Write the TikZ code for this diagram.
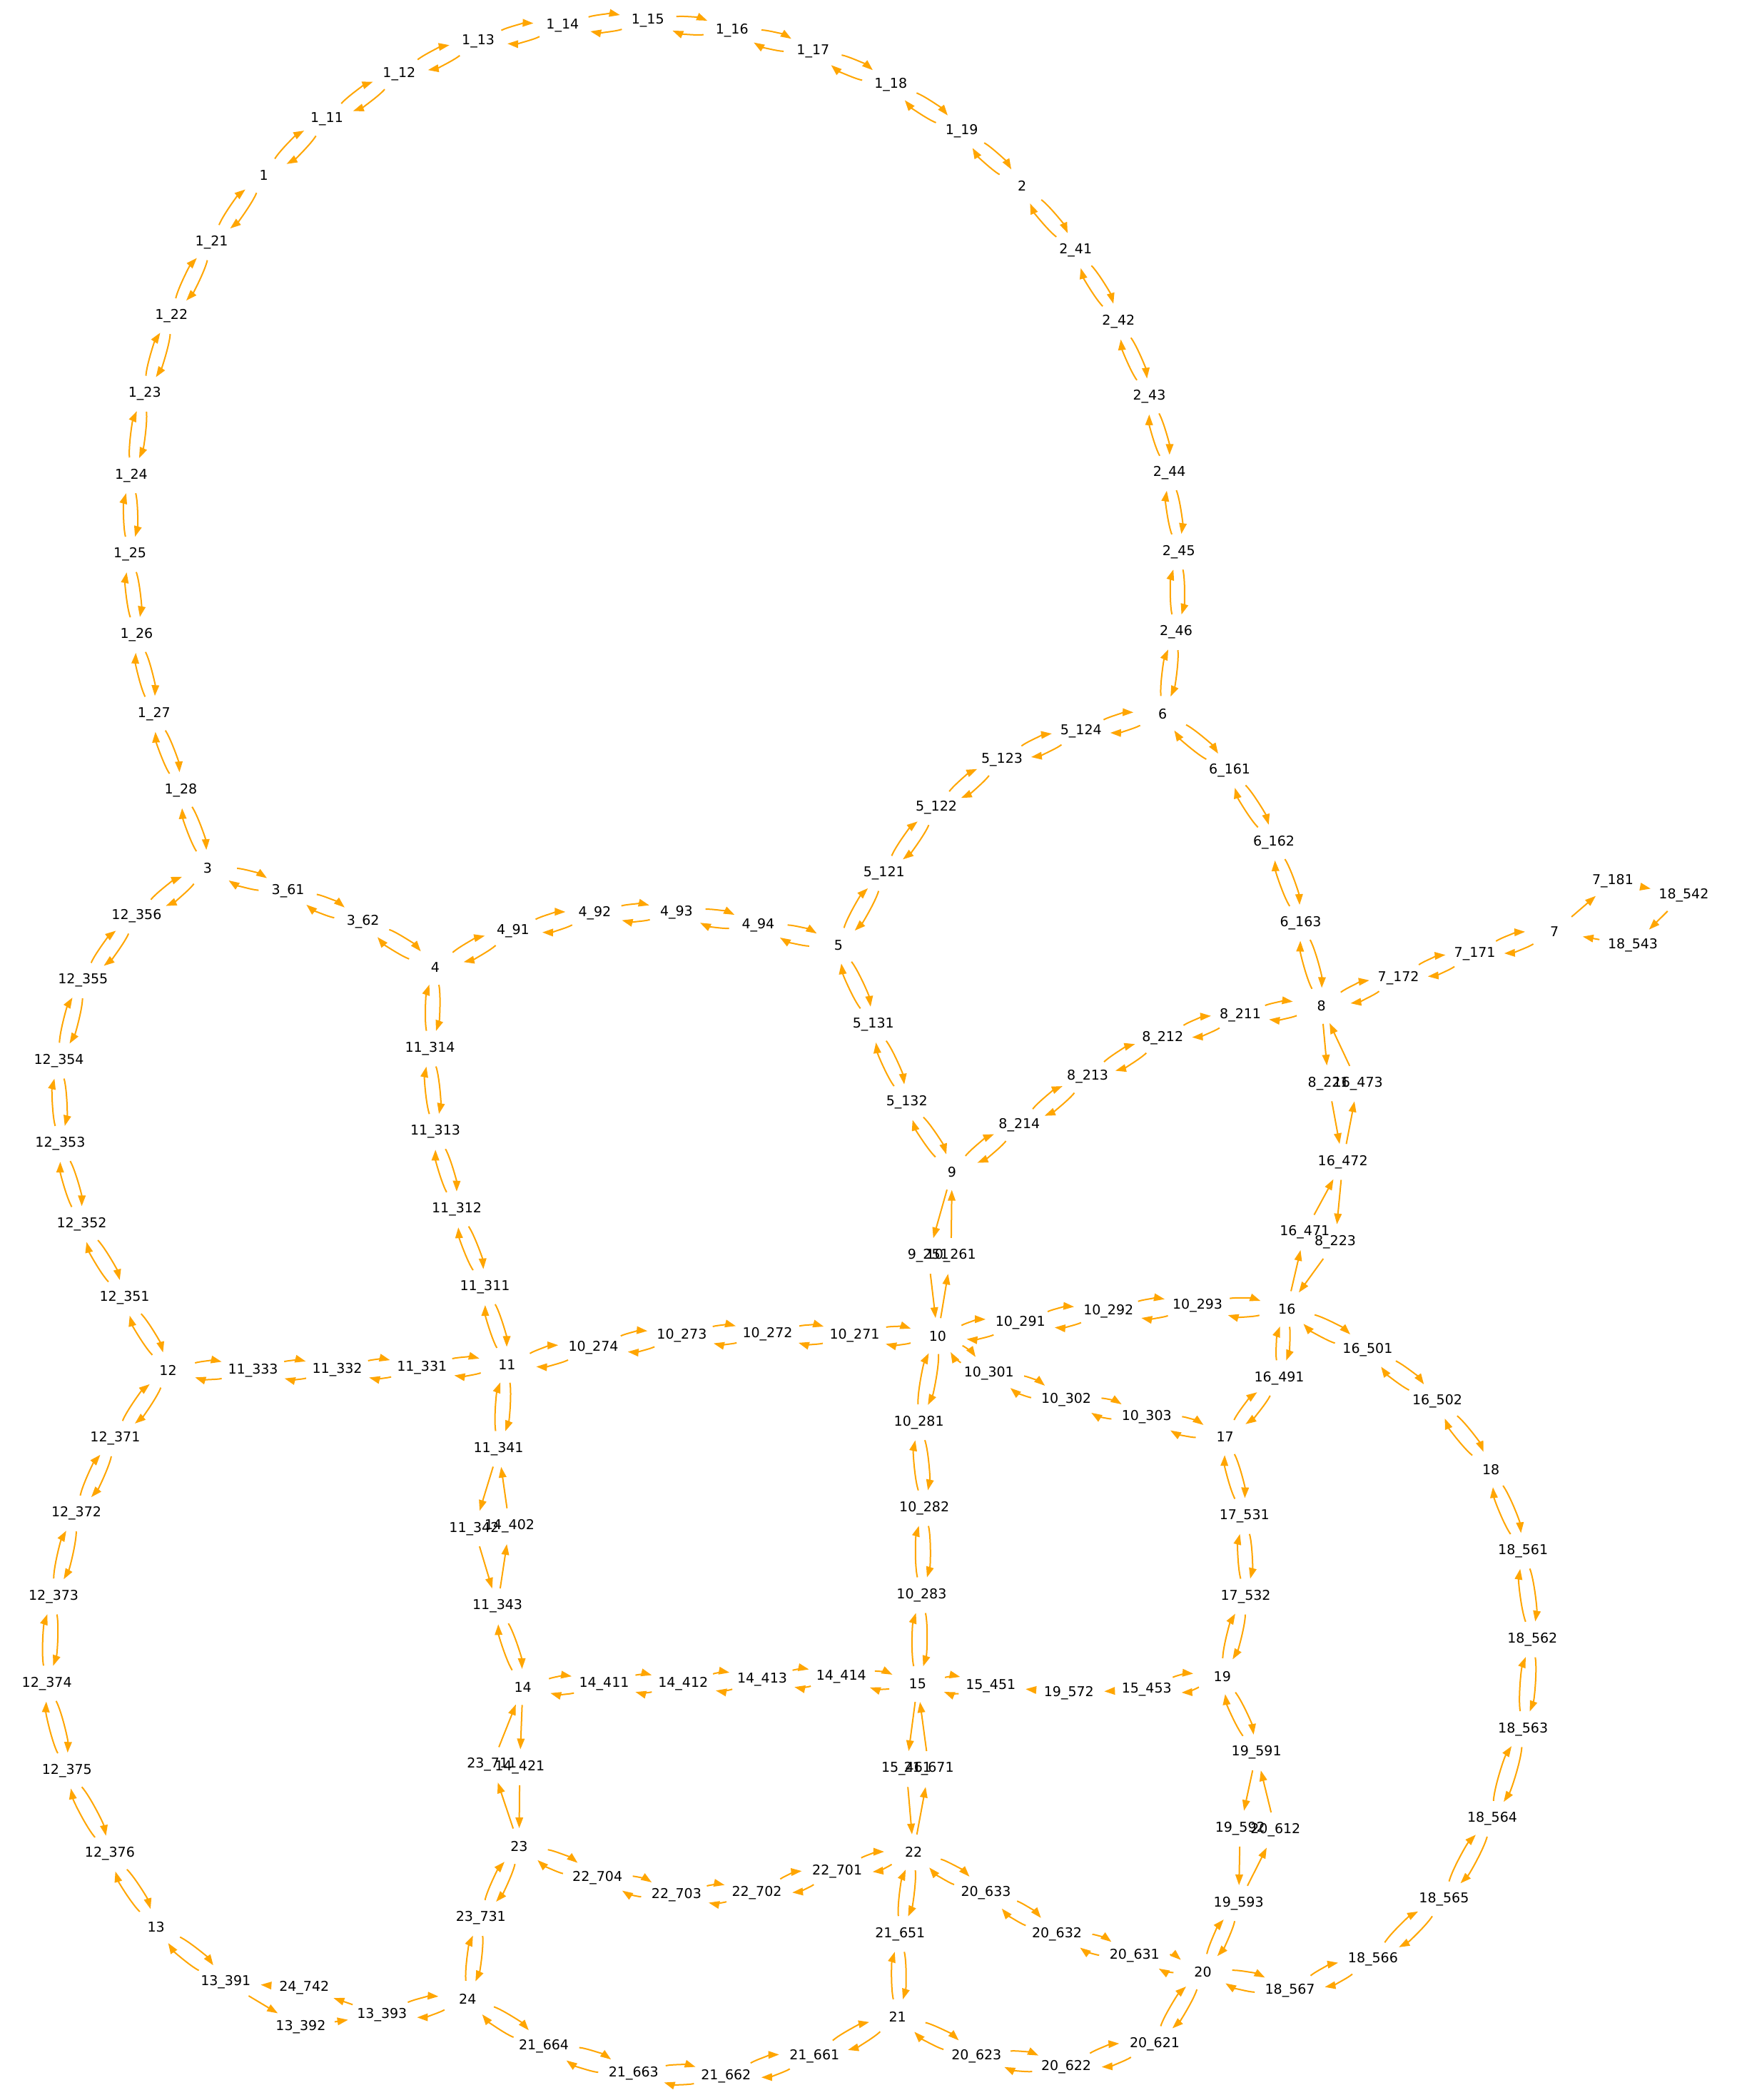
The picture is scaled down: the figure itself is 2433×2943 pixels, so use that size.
\documentclass[tikz,border=0pt]{standalone}
\usepackage{fontspec}
\setmainfont{DejaVu Sans}
\usetikzlibrary{shapes.geometric,arrows.meta}
\definecolor{edgeor}{HTML}{FFA500}
\newcommand\gfont{\fontsize{19}{22}\selectfont}
\tikzset{
  gn/.style={ellipse, inner sep=0pt, minimum height=50pt, font=\gfont, text=black},
  ebase/.style={draw=edgeor, line width=2pt, -{Triangle[length=15pt,width=10.5pt]}, edgeor},
  eb/.style={ebase, bend left=15, looseness=0.6},
  eo/.style={ebase}
}
\newlength\gw
\newcommand\gN[3]{\settowidth\gw{\gfont #3}\addtolength\gw{40pt}\ifdim\gw<82pt\setlength\gw{82pt}\fi\node[gn, minimum width=\gw] (n#1) at (#2) {#3};}
\newcommand\gB[2]{\draw[eb] (n#1) to (n#2); \draw[eb] (n#2) to (n#1);}
\newcommand\gOW[2]{\draw[eo] (n#1) -- (n#2);}
\begin{document}
\begin{tikzpicture}[x=1.877pt, y=-1.877pt]
\useasboundingbox (0pt,0pt) rectangle (2433pt,-2943pt);
% top arc
\gN{1}{197,131}{1}
\gN{1-11}{244,89}{1\_11}
\gN{1-12}{298,55}{1\_12}
\gN{1-13}{357,31}{1\_13}
\gN{1-14}{420,19}{1\_14}
\gN{1-15}{483.6,15.6}{1\_15}
\gN{1-16}{546.5,22.7}{1\_16}
\gN{1-17}{607,38}{1\_17}
\gN{1-18}{665,63}{1\_18}
\gN{1-19}{718,98}{1\_19}
\gN{2}{763,139}{2}
\gN{2-41}{803,187}{2\_41}
\gN{2-42}{835,240}{2\_42}
\gN{2-43}{858,296}{2\_43}
\gN{2-44}{873,353}{2\_44}
\gN{2-45}{880,412}{2\_45}
\gN{2-46}{878,472}{2\_46}
\gN{6}{868,533}{6}
% left arc
\gN{1-21}{158,181}{1\_21}
\gN{1-22}{128,236}{1\_22}
\gN{1-23}{108,294}{1\_23}
\gN{1-24}{98,355}{1\_24}
\gN{1-25}{97,414}{1\_25}
\gN{1-26}{102,474}{1\_26}
\gN{1-27}{115,533}{1\_27}
\gN{1-28}{135,590}{1\_28}
\gN{3}{155,648}{3}
\gN{3-61}{215,665}{3\_61}
\gN{3-62}{271,688}{3\_62}
\gN{4}{325,722}{4}
\gN{4-91}{383,695}{4\_91}
\gN{4-92}{444,682}{4\_92}
\gN{4-93}{505,681}{4\_93}
\gN{4-94}{566,691}{4\_94}
\gN{5}{626,706}{5}
\gN{5-121}{660,652}{5\_121}
\gN{5-122}{699,603}{5\_122}
\gN{5-123}{748,567}{5\_123}
\gN{5-124}{807,546}{5\_124}
\gN{6-161}{918,575}{6\_161}
\gN{6-162}{951,629}{6\_162}
\gN{6-163}{971,689}{6\_163}
\gN{8}{986.5,751}{8}
\gN{7-172}{1044,730}{7\_172}
\gN{7-171}{1101,712}{7\_171}
\gN{7}{1160.5,695.5}{7}
\gN{7-181}{1204,658}{7\_181}
\gN{18-542}{1257,668.3}{18\_542}
\gN{18-543}{1219,706}{18\_543}
\gN{8-211}{926,758}{8\_211}
\gN{8-212}{868,775}{8\_212}
\gN{8-213}{812,804}{8\_213}
\gN{8-214}{761,840}{8\_214}
\gN{9}{710.7,875}{9}
\gN{5-131}{652,765}{5\_131}
\gN{5-132}{677,823}{5\_132}
\gN{9-251}{693,937.7}{9\_251}
\gN{10-261}{710,937.7}{10\_261}
\gN{10}{700,997.5}{10}
\gN{8-221}{991.8,808.9}{8\_221}
\gN{16-473}{1013.7,808.9}{16\_473}
\gN{16-472}{1002.5,867.5}{16\_472}
\gN{16-471}{974,920}{16\_471}
\gN{8-223}{996.8,927.5}{8\_223}
\gN{16}{960.7,977.3}{16}
\gN{10-291}{761.7,987.8}{10\_291}
\gN{10-292}{827.5,979}{10\_292}
\gN{10-293}{894,975}{10\_293}
\gN{10-301}{738.3,1025.6}{10\_301}
\gN{10-302}{796,1045.3}{10\_302}
\gN{10-303}{856,1058}{10\_303}
\gN{17}{914.6,1073}{17}
\gN{16-491}{955,1029}{16\_491}
\gN{16-501}{1021,1008}{16\_501}
\gN{16-502}{1073,1046}{16\_502}
\gN{18}{1113,1097}{18}
\gN{17-531}{929,1132}{17\_531}
\gN{17-532}{930,1192}{17\_532}
\gN{19}{912.5,1251.5}{19}
\gN{18-561}{1137,1158}{18\_561}
\gN{18-562}{1144,1224}{18\_562}
\gN{18-563}{1137,1291}{18\_563}
\gN{18-564}{1114,1358}{18\_564}
\gN{18-565}{1078,1418}{18\_565}
\gN{18-566}{1025,1463}{18\_566}
\gN{18-567}{963,1486}{18\_567}
\gN{20}{898,1472.2}{20}
\gN{19-591}{938,1308.5}{19\_591}
\gN{19-592}{925.8,1365.3}{19\_592}
\gN{20-612}{952.2,1366.5}{20\_612}
\gN{19-593}{924.7,1421}{19\_593}
\gN{20-621}{862,1526}{20\_621}
\gN{20-622}{796,1543}{20\_622}
\gN{20-623}{729,1535}{20\_623}
\gN{21}{670,1506}{21}
\gN{20-631}{847,1460}{20\_631}
\gN{20-632}{789,1444}{20\_632}
\gN{20-633}{736,1413}{20\_633}
\gN{22}{682,1383}{22}
\gN{21-651}{672,1444}{21\_651}
\gN{10-281}{686,1062}{10\_281}
\gN{10-282}{690,1126}{10\_282}
\gN{10-283}{688,1191}{10\_283}
\gN{15}{685,1257.3}{15}
\gN{15-451}{739.6,1258.8}{15\_451}
\gN{19-572}{798,1264}{19\_572}
\gN{15-453}{856,1261.4}{15\_453}
\gN{15-461}{676.6,1320.8}{15\_461}
\gN{21-671}{693.5,1320.8}{21\_671}
\gN{22-701}{625,1397}{22\_701}
\gN{22-702}{565,1413}{22\_702}
\gN{22-703}{505,1415}{22\_703}
\gN{22-704}{446,1402}{22\_704}
\gN{23}{387.5,1378.4}{23}
\gN{14-414}{628,1252}{14\_414}
\gN{14-413}{569,1254}{14\_413}
\gN{14-412}{510,1257}{14\_412}
\gN{14-411}{451,1257}{14\_411}
\gN{14}{390.3,1259.5}{14}
\gN{14-421}{388,1319.5}{14\_421}
\gN{23-711}{367.2,1317.6}{23\_711}
\gN{23-731}{359,1432}{23\_731}
\gN{24}{349.1,1492.3}{24}
\gN{21-664}{406,1528}{21\_664}
\gN{21-663}{473,1548}{21\_663}
\gN{21-662}{542,1550}{21\_662}
\gN{21-661}{608,1535}{21\_661}
\gN{13-393}{285.2,1504.2}{13\_393}
\gN{13-392}{224.5,1513.4}{13\_392}
\gN{24-742}{227.1,1484.3}{24\_742}
\gN{13-391}{168.5,1479.9}{13\_391}
\gN{13}{116.5,1438.5}{13}
\gN{12-376}{82,1384}{12\_376}
\gN{12-375}{50,1322}{12\_375}
\gN{12-374}{35,1257}{12\_374}
\gN{12-373}{40,1192}{12\_373}
\gN{12-372}{57,1130}{12\_372}
\gN{12-371}{86,1074}{12\_371}
\gN{12}{125.5,1023}{12}
\gN{11-333}{188.9,1023}{11\_333}
\gN{11-332}{251.8,1022.6}{11\_332}
\gN{11-331}{315,1021.4}{11\_331}
\gN{11}{378.5,1019}{11}
\gN{10-274}{443,1006}{10\_274}
\gN{10-273}{509,997}{10\_273}
\gN{10-272}{573,996}{10\_272}
\gN{10-271}{638,997}{10\_271}
\gN{11-311}{362,961}{11\_311}
\gN{11-312}{341,903}{11\_312}
\gN{11-313}{325,845}{11\_313}
\gN{11-314}{321,783}{11\_314}
\gN{11-341}{372.2,1081.8}{11\_341}
\gN{11-342}{354,1141.3}{11\_342}
\gN{14-402}{380.4,1139.5}{14\_402}
\gN{11-343}{371.4,1199.3}{11\_343}
\gN{12-351}{93,969}{12\_351}
\gN{12-352}{61,914}{12\_352}
\gN{12-353}{45,854}{12\_353}
\gN{12-354}{44,792}{12\_354}
\gN{12-355}{62,732}{12\_355}
\gN{12-356}{102,684}{12\_356}
% edges
\gB{1}{1-11}\gB{1-11}{1-12}\gB{1-12}{1-13}\gB{1-13}{1-14}\gB{1-14}{1-15}
\gB{1-15}{1-16}\gB{1-16}{1-17}\gB{1-17}{1-18}\gB{1-18}{1-19}\gB{1-19}{2}
\gB{2}{2-41}\gB{2-41}{2-42}\gB{2-42}{2-43}\gB{2-43}{2-44}\gB{2-44}{2-45}\gB{2-45}{2-46}\gB{2-46}{6}
\gB{1}{1-21}\gB{1-21}{1-22}\gB{1-22}{1-23}\gB{1-23}{1-24}\gB{1-24}{1-25}\gB{1-25}{1-26}
\gB{1-26}{1-27}\gB{1-27}{1-28}\gB{1-28}{3}
\gB{3}{3-61}\gB{3-61}{3-62}\gB{3-62}{4}
\gB{4}{4-91}\gB{4-91}{4-92}\gB{4-92}{4-93}\gB{4-93}{4-94}\gB{4-94}{5}
\gB{5}{5-121}\gB{5-121}{5-122}\gB{5-122}{5-123}\gB{5-123}{5-124}\gB{5-124}{6}
\gB{6}{6-161}\gB{6-161}{6-162}\gB{6-162}{6-163}\gB{6-163}{8}
\gB{8}{7-172}\gB{7-172}{7-171}\gB{7-171}{7}
\gOW{7}{7-181}\gOW{7-181}{18-542}\gOW{18-542}{18-543}\gOW{18-543}{7}
\gB{8}{8-211}\gB{8-211}{8-212}\gB{8-212}{8-213}\gB{8-213}{8-214}\gB{8-214}{9}
\gB{5}{5-131}\gB{5-131}{5-132}\gB{5-132}{9}
\gOW{9}{9-251}\gOW{9-251}{10}\gOW{10}{10-261}\gOW{10-261}{9}
\gOW{8}{8-221}\gOW{8-221}{16-472}\gOW{16-472}{16-473}\gOW{16-473}{8}
\gOW{16}{16-471}\gOW{16-471}{16-472}\gOW{16-472}{8-223}\gOW{8-223}{16}
\gB{10}{10-291}\gB{10-291}{10-292}\gB{10-292}{10-293}\gB{10-293}{16}
\gB{16}{16-501}\gB{16-501}{16-502}\gB{16-502}{18}
\gB{16}{16-491}\gB{16-491}{17}
\gB{10}{10-301}\gB{10-301}{10-302}\gB{10-302}{10-303}\gB{10-303}{17}
\gB{3}{12-356}\gB{12-356}{12-355}\gB{12-355}{12-354}\gB{12-354}{12-353}\gB{12-353}{12-352}
\gB{12-352}{12-351}\gB{12-351}{12}
\gB{12}{11-333}\gB{11-333}{11-332}\gB{11-332}{11-331}\gB{11-331}{11}
\gB{11}{10-274}\gB{10-274}{10-273}\gB{10-273}{10-272}\gB{10-272}{10-271}\gB{10-271}{10}
\gB{4}{11-314}\gB{11-314}{11-313}\gB{11-313}{11-312}\gB{11-312}{11-311}\gB{11-311}{11}
\gB{10}{10-281}\gB{10-281}{10-282}\gB{10-282}{10-283}\gB{10-283}{15}
\gB{17}{17-531}\gB{17-531}{17-532}\gB{17-532}{19}
\gB{18}{18-561}\gB{18-561}{18-562}\gB{18-562}{18-563}\gB{18-563}{18-564}\gB{18-564}{18-565}
\gB{18-565}{18-566}\gB{18-566}{18-567}\gB{18-567}{20}
\gB{12}{12-371}\gB{12-371}{12-372}\gB{12-372}{12-373}\gB{12-373}{12-374}\gB{12-374}{12-375}
\gB{12-375}{12-376}\gB{12-376}{13}
\gB{13}{13-391}
\gOW{13-391}{13-392}\gOW{13-392}{13-393}\gOW{13-393}{24-742}\gOW{24-742}{13-391}
\gB{13-393}{24}
\gB{11}{11-341}
\gOW{11-341}{11-342}\gOW{11-342}{11-343}\gOW{11-343}{14-402}\gOW{14-402}{11-341}
\gB{11-343}{14}
\gB{14}{14-411}\gB{14-411}{14-412}\gB{14-412}{14-413}\gB{14-413}{14-414}\gB{14-414}{15}
\gOW{14}{14-421}\gOW{14-421}{23}\gOW{23}{23-711}\gOW{23-711}{14}
\gB{23}{23-731}\gB{23-731}{24}
\gB{23}{22-704}\gB{22-704}{22-703}\gB{22-703}{22-702}\gB{22-702}{22-701}\gB{22-701}{22}
\gOW{15}{15-461}\gOW{15-461}{22}\gOW{22}{21-671}\gOW{21-671}{15}
\gB{22}{21-651}\gB{21-651}{21}
\gB{22}{20-633}\gB{20-633}{20-632}\gB{20-632}{20-631}\gB{20-631}{20}
\gB{21}{20-623}\gB{20-623}{20-622}\gB{20-622}{20-621}\gB{20-621}{20}
\gB{24}{21-664}\gB{21-664}{21-663}\gB{21-663}{21-662}\gB{21-662}{21-661}\gB{21-661}{21}
\gB{19}{19-591}
\gOW{19-591}{19-592}\gOW{19-592}{19-593}\gOW{19-593}{20-612}\gOW{20-612}{19-591}
\gB{19-593}{20}
\gB{15}{15-451}\gOW{19-572}{15-451}\gOW{15-453}{19-572}\gB{15-453}{19}
\end{tikzpicture}
\end{document}
